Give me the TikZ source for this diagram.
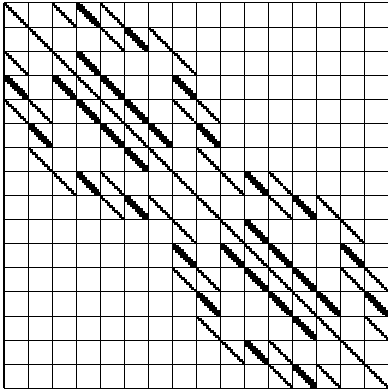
\documentclass[tikz,border=0pt]{standalone}
\usetikzlibrary{calc}
\newcommand\cx{24.05}
\newcommand\cy{24.08}
\newcommand\thindiag[2]{%
  \begin{scope}
    \clip ({4+\cx*#2},{389-\cy*#1}) rectangle ++(\cx,-\cy);
    \foreach \k in {0,...,9}{%
      \fill ({4+\cx*#2+0.1*\cx*\k-0.02*\cx},{389-\cy*#1-0.1*\cy*\k+0.02*\cy}) rectangle ++({0.14*\cx},{-0.14*\cy});
    }
  \end{scope}}
\newcommand\thickdiag[2]{%
  \begin{scope}
    \clip ({4+\cx*#2},{389-\cy*#1}) rectangle ++(\cx,-\cy);
    \foreach \k in {0,...,9}{%
      \fill ({4+\cx*#2+0.1*\cx*\k-0.07*\cx},{389-\cy*#1-0.1*\cy*\k+0.07*\cy}) rectangle ++({0.24*\cx},{-0.24*\cy});
    }
  \end{scope}}
\tikzset{gridline/.style={draw=black,line width=1pt}}
\begin{document}
\begin{tikzpicture}[x=1pt,y=1pt]
\useasboundingbox (0,0) rectangle (388,392);
\fill[white] (0,0) rectangle (388,392);
% grid
\foreach \i in {0,...,16}{
  \draw[gridline] ({4+\cx*\i},389) -- ({4+\cx*\i},{389-16*\cy});
  \draw[gridline] (4,{389-\cy*\i}) -- ({4+16*\cx},{389-\cy*\i});
}
% diagonal blocks
\foreach \i in {0,...,15}{\thindiag{\i}{\i}}
% thin off-diagonal blocks (symmetric)
\foreach \r/\c in {0/2,0/4,1/4,1/6,2/7,4/7,4/8,6/8,7/9,7/11,8/11,8/13,9/14,11/14,11/15,13/15}{
  \thindiag{\r}{\c}
  \thindiag{\c}{\r}
}
% thick off-diagonal blocks (symmetric)
\foreach \r/\c in {0/3,1/5,2/3,3/4,3/7,4/5,5/6,5/8,7/10,8/12,9/10,10/11,10/14,11/12,12/13,12/15}{
  \thickdiag{\r}{\c}
  \thickdiag{\c}{\r}
}
\end{tikzpicture}
\end{document}
